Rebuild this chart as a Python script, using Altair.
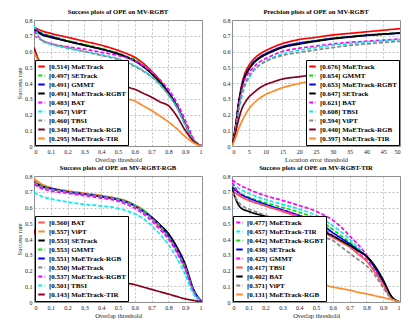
import altair as alt
import pandas as pd

# ---------------- thresholds ----------------
SUCC_T = [0, 0.05, 0.1, 0.2, 0.3, 0.4, 0.5, 0.55, 0.6, 0.65, 0.7, 0.75, 0.8, 0.85, 0.9, 0.95, 1]
PREC_T = [0, 1, 2, 3, 4, 5, 6, 8, 10, 12, 15, 20, 25, 30, 35, 40, 45, 50]

RED, GREEN, BLUE, BLACK = "#FF0000", "#00E600", "#0000FF", "#000000"
MAGENTA, CYAN, GRAY, MAROON, ORANGE = "#FF00FF", "#00F0F0", "#888888", "#88001B", "#FF8A2A"
LRED = "#FF5555"
SOLID, DASH = [1, 0], [4, 2]

# ---------------- panel 1: success MV-RGBT ----------------
p1_names = ["MoETrack", "SETrack", "GMMT", "MoETrack-RGBT", "BAT", "ViPT", "TBSI", "MoETrack-RGB", "MoETrack-TIR"]
p1_scores = ["0.514", "0.497", "0.491", "0.491", "0.483", "0.467", "0.460", "0.348", "0.295"]
p1_colors = [RED, GREEN, BLUE, BLACK, MAGENTA, CYAN, GRAY, MAROON, ORANGE]
p1_dashes = [SOLID, DASH, SOLID, SOLID, DASH, DASH, DASH, SOLID, SOLID]
p1_moetrack = [0.755, 0.73, 0.715, 0.69, 0.665, 0.64, 0.607, 0.587, 0.563, 0.525, 0.475, 0.415, 0.34, 0.255, 0.14, 0.035, 0]
p1_setrack = [0.745, 0.715, 0.70, 0.67, 0.645, 0.62, 0.59, 0.57, 0.55, 0.515, 0.47, 0.415, 0.345, 0.26, 0.145, 0.035, 0]
p1_gmmt = [0.745, 0.71, 0.695, 0.665, 0.64, 0.615, 0.585, 0.565, 0.54, 0.505, 0.46, 0.405, 0.34, 0.255, 0.14, 0.035, 0]
p1_rgbt = [0.74, 0.705, 0.69, 0.665, 0.64, 0.615, 0.585, 0.565, 0.54, 0.505, 0.46, 0.405, 0.335, 0.25, 0.14, 0.035, 0]
p1_bat = [0.73, 0.67, 0.65, 0.63, 0.615, 0.595, 0.575, 0.56, 0.54, 0.51, 0.47, 0.42, 0.36, 0.275, 0.165, 0.045, 0]
p1_vipt = [0.765, 0.665, 0.645, 0.62, 0.60, 0.58, 0.555, 0.535, 0.51, 0.48, 0.44, 0.39, 0.325, 0.245, 0.135, 0.035, 0]
p1_tbsi = [0.70, 0.67, 0.65, 0.625, 0.60, 0.575, 0.55, 0.53, 0.505, 0.475, 0.44, 0.39, 0.325, 0.245, 0.135, 0.035, 0]
p1_rgb = [0.625, 0.51, 0.49, 0.46, 0.44, 0.42, 0.39, 0.375, 0.36, 0.335, 0.31, 0.28, 0.256, 0.19, 0.10, 0.03, 0]
p1_tir = [0.595, 0.50, 0.46, 0.42, 0.39, 0.35, 0.32, 0.30, 0.286, 0.255, 0.225, 0.19, 0.153, 0.11, 0.06, 0.02, 0]
p1_values = [p1_moetrack, p1_setrack, p1_gmmt, p1_rgbt, p1_bat, p1_vipt, p1_tbsi, p1_rgb, p1_tir]

# ---------------- panel 2: precision MV-RGBT ----------------
p2_names = ["MoETrack", "GMMT", "MoETrack-RGBT", "SETrack", "BAT", "TBSI", "ViPT", "MoETrack-RGB", "MoETrack-TIR"]
p2_scores = ["0.676", "0.654", "0.653", "0.647", "0.621", "0.608", "0.594", "0.440", "0.397"]
p2_colors = [RED, GREEN, BLUE, BLACK, MAGENTA, CYAN, GRAY, MAROON, ORANGE]
p2_dashes = [SOLID, DASH, SOLID, SOLID, DASH, DASH, DASH, SOLID, SOLID]
p2_moetrack = [0, 0.12, 0.28, 0.40, 0.47, 0.51, 0.54, 0.58, 0.605, 0.625, 0.65, 0.676, 0.69, 0.705, 0.715, 0.725, 0.735, 0.745]
p2_gmmt = [0, 0.11, 0.27, 0.385, 0.45, 0.49, 0.52, 0.56, 0.585, 0.605, 0.63, 0.654, 0.67, 0.685, 0.695, 0.705, 0.712, 0.718]
p2_rgbt = [0, 0.11, 0.27, 0.385, 0.45, 0.49, 0.52, 0.56, 0.585, 0.605, 0.63, 0.653, 0.668, 0.683, 0.693, 0.703, 0.71, 0.716]
p2_setrack = [0, 0.11, 0.27, 0.38, 0.445, 0.485, 0.515, 0.555, 0.58, 0.60, 0.625, 0.647, 0.665, 0.68, 0.692, 0.702, 0.71, 0.718]
p2_bat = [0, 0.10, 0.25, 0.36, 0.43, 0.465, 0.49, 0.53, 0.555, 0.575, 0.60, 0.621, 0.635, 0.648, 0.658, 0.665, 0.672, 0.68]
p2_tbsi = [0, 0.09, 0.22, 0.32, 0.39, 0.43, 0.465, 0.51, 0.54, 0.56, 0.585, 0.608, 0.625, 0.64, 0.65, 0.66, 0.668, 0.676]
p2_vipt = [0, 0.10, 0.24, 0.34, 0.40, 0.44, 0.47, 0.51, 0.535, 0.555, 0.575, 0.594, 0.61, 0.625, 0.638, 0.648, 0.657, 0.665]
p2_rgb = [0, 0.08, 0.17, 0.24, 0.28, 0.31, 0.33, 0.365, 0.39, 0.405, 0.425, 0.44, 0.455, 0.468, 0.48, 0.49, 0.50, 0.51]
p2_tir = [0, 0.05, 0.11, 0.16, 0.20, 0.235, 0.26, 0.30, 0.327, 0.345, 0.37, 0.397, 0.42, 0.44, 0.458, 0.475, 0.49, 0.50]
p2_values = [p2_moetrack, p2_gmmt, p2_rgbt, p2_setrack, p2_bat, p2_tbsi, p2_vipt, p2_rgb, p2_tir]

# ---------------- panel 3: success MV-RGBT-RGB ----------------
p3_names = ["BAT", "ViPT", "SETrack", "GMMT", "MoETrack-RGB", "MoETrack", "MoETrack-RGBT", "TBSI", "MoETrack-TIR"]
p3_scores = ["0.560", "0.557", "0.553", "0.553", "0.551", "0.550", "0.537", "0.501", "0.143"]
p3_colors = [LRED, ORANGE, BLACK, GREEN, BLUE, GRAY, MAGENTA, CYAN, MAROON]
p3_dashes = [SOLID, SOLID, SOLID, DASH, SOLID, DASH, DASH, DASH, SOLID]
p3_bat = [0.775, 0.745, 0.725, 0.705, 0.69, 0.675, 0.655, 0.64, 0.615, 0.58, 0.535, 0.48, 0.42, 0.335, 0.225, 0.075, 0]
p3_vipt = [0.785, 0.745, 0.725, 0.705, 0.69, 0.675, 0.655, 0.64, 0.615, 0.58, 0.53, 0.475, 0.415, 0.33, 0.22, 0.07, 0]
p3_setrack = [0.76, 0.735, 0.72, 0.70, 0.685, 0.67, 0.65, 0.635, 0.61, 0.58, 0.54, 0.49, 0.435, 0.35, 0.24, 0.08, 0]
p3_gmmt = [0.755, 0.735, 0.72, 0.70, 0.685, 0.67, 0.655, 0.64, 0.615, 0.585, 0.535, 0.48, 0.415, 0.325, 0.21, 0.07, 0]
p3_rgb = [0.755, 0.73, 0.72, 0.70, 0.685, 0.67, 0.65, 0.635, 0.61, 0.575, 0.535, 0.48, 0.42, 0.335, 0.225, 0.075, 0]
p3_moetrack = [0.755, 0.73, 0.715, 0.70, 0.685, 0.67, 0.65, 0.635, 0.61, 0.575, 0.53, 0.48, 0.415, 0.33, 0.22, 0.07, 0]
p3_rgbt = [0.745, 0.72, 0.705, 0.69, 0.675, 0.66, 0.64, 0.62, 0.595, 0.56, 0.515, 0.46, 0.40, 0.315, 0.205, 0.06, 0]
p3_tbsi = [0.695, 0.67, 0.655, 0.635, 0.62, 0.61, 0.595, 0.58, 0.56, 0.53, 0.485, 0.43, 0.365, 0.28, 0.175, 0.05, 0]
p3_tir = [0.46, 0.30, 0.25, 0.20, 0.17, 0.15, 0.13, 0.12, 0.11, 0.095, 0.08, 0.065, 0.05, 0.035, 0.02, 0.01, 0]
p3_values = [p3_bat, p3_vipt, p3_setrack, p3_gmmt, p3_rgb, p3_moetrack, p3_rgbt, p3_tbsi, p3_tir]

# ---------------- panel 4: success MV-RGBT-TIR ----------------
p4_names = ["MoETrack", "MoETrack-TIR", "MoETrack-RGBT", "SETrack", "GMMT", "TBSI", "BAT", "ViPT", "MoETrack-RGB"]
p4_scores = ["0.477", "0.457", "0.442", "0.438", "0.425", "0.417", "0.402", "0.371", "0.131"]
p4_colors = [MAGENTA, CYAN, GREEN, BLUE, MAGENTA, LRED, BLACK, GRAY, ORANGE]
p4_dashes = [DASH, DASH, DASH, SOLID, DASH, SOLID, SOLID, DASH, SOLID]
p4_moetrack = [0.775, 0.74, 0.715, 0.675, 0.645, 0.613, 0.576, 0.55, 0.52, 0.475, 0.42, 0.365, 0.30, 0.22, 0.12, 0.03, 0]
p4_tir = [0.755, 0.715, 0.69, 0.65, 0.62, 0.59, 0.55, 0.52, 0.485, 0.445, 0.40, 0.345, 0.29, 0.215, 0.12, 0.03, 0]
p4_rgbt = [0.735, 0.69, 0.665, 0.63, 0.60, 0.57, 0.53, 0.50, 0.46, 0.42, 0.38, 0.335, 0.29, 0.215, 0.12, 0.03, 0]
p4_setrack = [0.73, 0.685, 0.66, 0.62, 0.585, 0.55, 0.51, 0.48, 0.44, 0.405, 0.37, 0.33, 0.29, 0.22, 0.13, 0.03, 0]
p4_gmmt = [0.76, 0.68, 0.65, 0.61, 0.58, 0.545, 0.50, 0.465, 0.42, 0.385, 0.35, 0.31, 0.27, 0.20, 0.11, 0.025, 0]
p4_tbsi = [0.71, 0.67, 0.645, 0.61, 0.575, 0.535, 0.47, 0.44, 0.41, 0.38, 0.35, 0.305, 0.26, 0.19, 0.11, 0.025, 0]
p4_bat = [0.72, 0.60, 0.575, 0.545, 0.52, 0.495, 0.465, 0.445, 0.42, 0.39, 0.36, 0.325, 0.29, 0.23, 0.14, 0.035, 0]
p4_vipt = [0.70, 0.62, 0.59, 0.55, 0.50, 0.47, 0.43, 0.41, 0.39, 0.35, 0.31, 0.27, 0.23, 0.17, 0.09, 0.02, 0]
p4_rgb = [0.49, 0.33, 0.24, 0.19, 0.16, 0.14, 0.12, 0.11, 0.095, 0.085, 0.075, 0.062, 0.052, 0.04, 0.028, 0.015, 0]
p4_values = [p4_moetrack, p4_tir, p4_rgbt, p4_setrack, p4_gmmt, p4_tbsi, p4_bat, p4_vipt, p4_rgb]

Y_TICKS = [0, 0.1, 0.2, 0.3, 0.4, 0.5, 0.6, 0.7, 0.8]
SUCC_TICKS = [0, 0.1, 0.2, 0.3, 0.4, 0.5, 0.6, 0.7, 0.8, 0.9, 1]
PREC_TICKS = [0, 5, 10, 15, 20, 25, 30, 35, 40, 45, 50]

FONT = "Liberation Serif"


def build_df(xs, names, scores, values):
    rows = []
    for k, (n, s, vals) in enumerate(zip(names, scores, values)):
        lab = f"[{s}] {n}"
        for x, y in zip(xs, vals):
            rows.append({"x": x, "y": y, "label": lab, "k": k})
    return pd.DataFrame(rows)


def panel(xs, names, scores, values, colors, dashes, title, xtitle, ytitle,
          xdomain, xticks, orient):
    df = build_df(xs, names, scores, values)
    labels = [f"[{s}] {n}" for n, s in zip(names, scores)]
    legend = alt.Legend(title=None, orient=orient, offset=1)
    return alt.Chart(df).mark_line(strokeWidth=1.7, interpolate="monotone", clip=True).encode(
        x=alt.X("x:Q", scale=alt.Scale(domain=xdomain, nice=False, zero=False),
                axis=alt.Axis(values=xticks, format="~g", title=xtitle)),
        y=alt.Y("y:Q", scale=alt.Scale(domain=[0, 0.8], nice=False),
                axis=alt.Axis(values=Y_TICKS, format="~g", title=ytitle)),
        color=alt.Color("label:N", scale=alt.Scale(domain=labels, range=colors), legend=legend),
        strokeDash=alt.StrokeDash("label:N", scale=alt.Scale(domain=labels, range=dashes), legend=legend),
        order=alt.Order("k:Q", sort="descending"),
    ).properties(
        width=168, height=126,
        title=alt.TitleParams(title, fontSize=6.6, fontWeight="bold", font=FONT, offset=1),
    )


c1 = panel(SUCC_T, p1_names, p1_scores, p1_values, p1_colors, p1_dashes,
           "Success plots of OPE on MV-RGBT", "Overlap threshold", "Success rate",
           [0, 1], SUCC_TICKS, "bottom-left")
c2 = panel(PREC_T, p2_names, p2_scores, p2_values, p2_colors, p2_dashes,
           "Precision plots of OPE on MV-RGBT", "Location error threshold", None,
           [0, 50], PREC_TICKS, "bottom-right")
c3 = panel(SUCC_T, p3_names, p3_scores, p3_values, p3_colors, p3_dashes,
           "Success plots of OPE on MV-RGBT-RGB", "Overlap threshold", "Success rate",
           [0, 1], SUCC_TICKS, "bottom-left")
c4 = panel(SUCC_T, p4_names, p4_scores, p4_values, p4_colors, p4_dashes,
           "Success plots of OPE on MV-RGBT-TIR", "Overlap threshold", None,
           [0, 1], SUCC_TICKS, "bottom-left")

chart = alt.concat(c1, c2, c3, c4, columns=2, spacing=30, bounds="flush").resolve_scale(
    color="independent", strokeDash="independent"
).resolve_legend(
    color="independent", strokeDash="independent"
).properties(
    padding={"left": 8, "top": 0, "right": 2, "bottom": 0}
).configure(
    font=FONT
).configure_view(
    stroke="#8a8a8a", strokeWidth=1
).configure_axis(
    domain=False, ticks=False, labelFontSize=6, labelColor="#222222", labelFont=FONT,
    labelPadding=2, titleFontSize=6.5, titleFontWeight="normal", titleFont=FONT,
    titleColor="#222222", titlePadding=2, grid=True, gridDash=[2, 2],
    gridColor="#9a9a9a", gridWidth=0.6,
).configure_legend(
    labelFont=FONT, labelFontSize=7, labelFontWeight="bold", labelColor="#000000",
    fillColor="white", strokeColor="black", padding=2, rowPadding=0,
    symbolSize=42, symbolStrokeWidth=2, symbolType="stroke", labelOffset=3,
    cornerRadius=0, labelLimit=200,
)

chart.save("out.html", embed_options={"renderer": "svg", "actions": False})
